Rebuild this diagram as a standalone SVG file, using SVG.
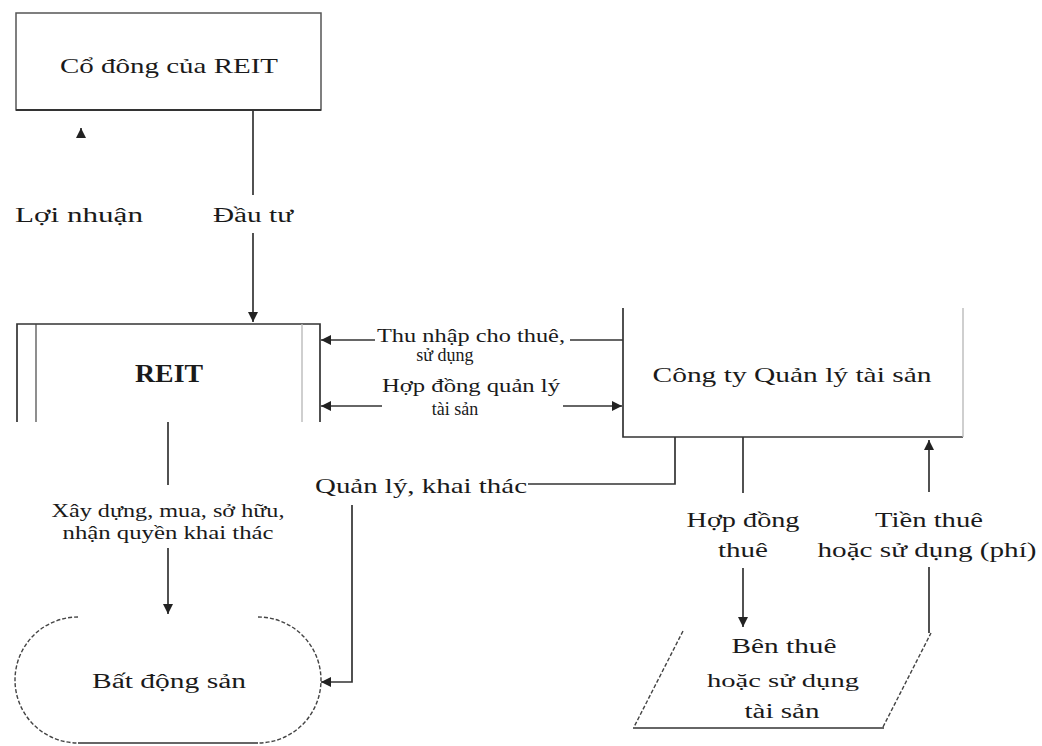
<svg xmlns="http://www.w3.org/2000/svg" width="1042" height="746" viewBox="0 0 1042 746">
<style>
text{font-family:"Liberation Serif","Times New Roman",serif;fill:#1a1a1a;text-anchor:middle}
.t{font-size:22px}
.s{font-size:20px}
.m{font-size:18px}
.b{font-size:26px;font-weight:bold}
.ln{stroke:#333;stroke-width:1.7;fill:none}
.lt{stroke:#bbb;stroke-width:1.4;fill:none}
.d{stroke:#444;stroke-width:1.4;fill:none;stroke-dasharray:4 2}
</style>
<defs>
<marker id="ah" markerUnits="userSpaceOnUse" markerWidth="12" markerHeight="10" refX="10" refY="5" orient="auto-start-reverse">
<path d="M0,0 L10,5 L0,10 z" fill="#222"/>
</marker>
</defs>
<rect width="1042" height="746" fill="#fff"/>

<g id="co-dong">
<rect x="16" y="13" width="305" height="97" fill="#fff" stroke="#555" stroke-width="1.5"/>
<line x1="16" y1="110" x2="321" y2="110" stroke="#333" stroke-width="2"/>
<text class="t" x="169" y="73" textLength="218" lengthAdjust="spacingAndGlyphs">Cổ đông của REIT</text>
</g>

<g id="reit">
<path class="ln" d="M17,422 V324 H320 V422"/>
<line x1="36" y1="324" x2="36" y2="422" stroke="#444" stroke-width="1.2"/>
<line class="lt" x1="302" y1="324" x2="302" y2="422"/>
<text class="b" x="169" y="382" textLength="68" lengthAdjust="spacingAndGlyphs">REIT</text>
</g>

<g id="cong-ty">
<path class="ln" d="M623,308 V437 H963"/>
<line class="lt" x1="963" y1="308" x2="963" y2="437"/>
<text class="t" x="792" y="382" textLength="279" lengthAdjust="spacingAndGlyphs">Công ty Quản lý tài sản</text>
</g>

<g id="bat-dong-san">
<path class="d" d="M78,617 A63,63 0 0 0 78,743"/>
<path class="d" d="M258,617 A63,63 0 0 1 258,743"/>
<line class="ln" x1="78" y1="743" x2="258" y2="743"/>
<text class="s" x="169" y="688" textLength="154" lengthAdjust="spacingAndGlyphs">Bất động sản</text>
</g>

<g id="ben-thue">
<line class="d" x1="683" y1="631" x2="634" y2="727"/>
<line class="d" x1="883" y1="727" x2="931" y2="633"/>
<line class="ln" x1="633" y1="728" x2="884" y2="728"/>
<text class="s" x="784" y="653" textLength="105" lengthAdjust="spacingAndGlyphs">Bên thuê</text>
<text class="m" x="783" y="687" textLength="152" lengthAdjust="spacingAndGlyphs">hoặc sử dụng</text>
<text class="s" x="782" y="718" textLength="75" lengthAdjust="spacingAndGlyphs">tài sản</text>
</g>

<g id="connectors">
<line class="ln" x1="81" y1="131" x2="81" y2="128" marker-end="url(#ah)"/>
<text class="s" x="79" y="222" textLength="128" lengthAdjust="spacingAndGlyphs">Lợi nhuận</text>

<line class="ln" x1="253" y1="110" x2="253" y2="195"/>
<line class="ln" x1="253" y1="233" x2="253" y2="322" marker-end="url(#ah)"/>
<text class="s" x="253" y="222" textLength="80" lengthAdjust="spacingAndGlyphs">Đầu tư</text>

<line class="ln" x1="623" y1="340" x2="570" y2="340"/>
<line class="ln" x1="375" y1="340" x2="321" y2="340" marker-end="url(#ah)"/>
<text class="m" x="471" y="342" textLength="188" lengthAdjust="spacingAndGlyphs">Thu nhập cho thuê,</text>
<text class="m" x="445" y="361">sử dụng</text>

<line class="ln" x1="382" y1="406" x2="321" y2="406" marker-end="url(#ah)"/>
<line class="ln" x1="563" y1="406" x2="622" y2="406" marker-end="url(#ah)"/>
<text class="m" x="471" y="392" textLength="178" lengthAdjust="spacingAndGlyphs">Hợp đồng quản lý</text>
<text class="m" x="455" y="415">tài sản</text>

<line class="ln" x1="168" y1="422" x2="168" y2="485"/>
<line class="ln" x1="168" y1="548" x2="168" y2="614" marker-end="url(#ah)"/>
<text class="m" x="168" y="517" textLength="233" lengthAdjust="spacingAndGlyphs">Xây dựng, mua, sở hữu,</text>
<text class="m" x="168" y="539" textLength="211" lengthAdjust="spacingAndGlyphs">nhận quyền khai thác</text>

<path class="ln" d="M675,437 V484 H528"/>
<text class="t" x="421" y="493" textLength="212" lengthAdjust="spacingAndGlyphs">Quản lý, khai thác</text>
<path class="ln" d="M352,505 V682 H321" marker-end="url(#ah)"/>

<line class="ln" x1="743" y1="437" x2="743" y2="493"/>
<line class="ln" x1="743" y1="568" x2="743" y2="627" marker-end="url(#ah)"/>
<text class="s" x="743" y="527" textLength="113" lengthAdjust="spacingAndGlyphs">Hợp đồng</text>
<text class="s" x="743" y="557" textLength="50" lengthAdjust="spacingAndGlyphs">thuê</text>

<line class="ln" x1="929" y1="633" x2="929" y2="567"/>
<line class="ln" x1="929" y1="492" x2="929" y2="440" marker-end="url(#ah)"/>
<text class="s" x="929" y="527" textLength="108" lengthAdjust="spacingAndGlyphs">Tiền thuê</text>
<text class="s" x="927" y="557" textLength="219" lengthAdjust="spacingAndGlyphs">hoặc sử dụng (phí)</text>
</g>
</svg>
